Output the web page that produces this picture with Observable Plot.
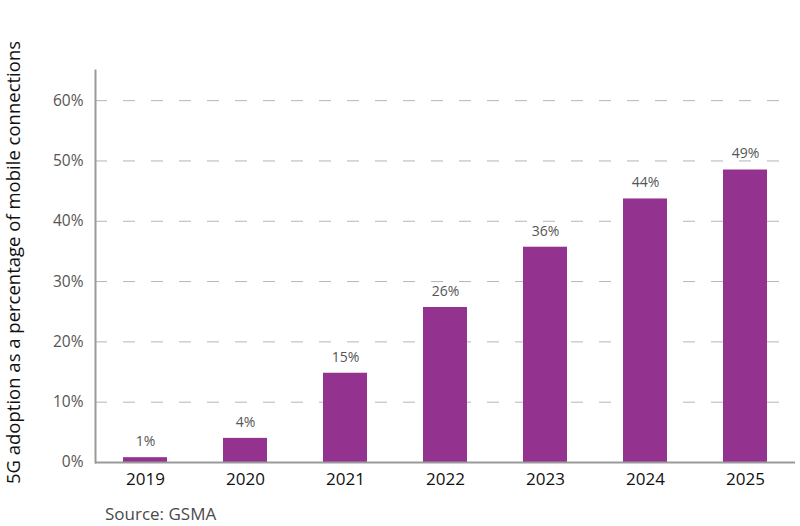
<!DOCTYPE html>
<html>
<head>
<meta charset="utf-8">
<script src="https://cdn.jsdelivr.net/npm/d3@7"></script>
<script src="https://cdn.jsdelivr.net/npm/@observablehq/plot@0.6"></script>
<style>
  html, body { margin: 0; padding: 0; background: #fff; }
  body { width: 800px; height: 526px; overflow: hidden; font-family: "Open Sans", "Noto Sans", sans-serif; }
  #source { padding-left: 105px; margin-top: 2px; font-size: 17px; color: #4a4a4a; font-family: "Open Sans", sans-serif; }
</style>
</head>
<body>
<div id="chart"></div>
<div id="source">Source: GSMA</div>
<script>
const years = ["2019", "2020", "2021", "2022", "2023", "2024", "2025"];
const adoption = [0.8, 4, 14.8, 25.7, 35.7, 43.7, 48.5];
const valueLabels = ["1%", "4%", "15%", "26%", "36%", "44%", "49%"];
const yTicks = [0, 10, 20, 30, 40, 50, 60];
const gridTicks = [10, 20, 30, 40, 50, 60];
const yTitle = "5G adoption as a percentage of mobile connections";

const data = years.map((y, i) => ({year: y, value: adoption[i], label: valueLabels[i]}));

const chart = Plot.plot({
  width: 800,
  height: 500,
  marginLeft: 95,
  marginRight: 5,
  marginTop: 70,
  marginBottom: 38,
  style: {fontFamily: "'Open Sans', sans-serif", background: "#fff"},
  x: {domain: years, paddingInner: 0.56, paddingOuter: 0.28},
  y: {domain: [0, 65]},
  marks: [
    Plot.ruleY(gridTicks, {stroke: "#b5b5b5", strokeWidth: 1, strokeDasharray: "12,16"}),
    Plot.barY(data, {x: "year", y: "value", fill: "#93338f"}),
    Plot.text(data, {x: "year", y: "value", text: "label", dy: -16, fontSize: 14, fill: "#555"}),
    Plot.ruleY([0], {stroke: "#9a9a9a", strokeWidth: 2}),
    Plot.frame({anchor: "left", stroke: "#9a9a9a", strokeWidth: 2}),
    Plot.axisY({ticks: yTicks, tickSize: 0, tickPadding: 12, tickFormat: d => d + "%", fontSize: 15.5, color: "#555", label: null}),
    Plot.axisX({tickSize: 0, tickPadding: 10, fontSize: 17, color: "#111", label: null}),
    Plot.text([yTitle], {frameAnchor: "left", textAnchor: "middle", rotate: -90, dx: -81, dy: -4, fontSize: 18.5, fill: "#111"})
  ]
});
document.getElementById("chart").appendChild(chart);
</script>
</body>
</html>
